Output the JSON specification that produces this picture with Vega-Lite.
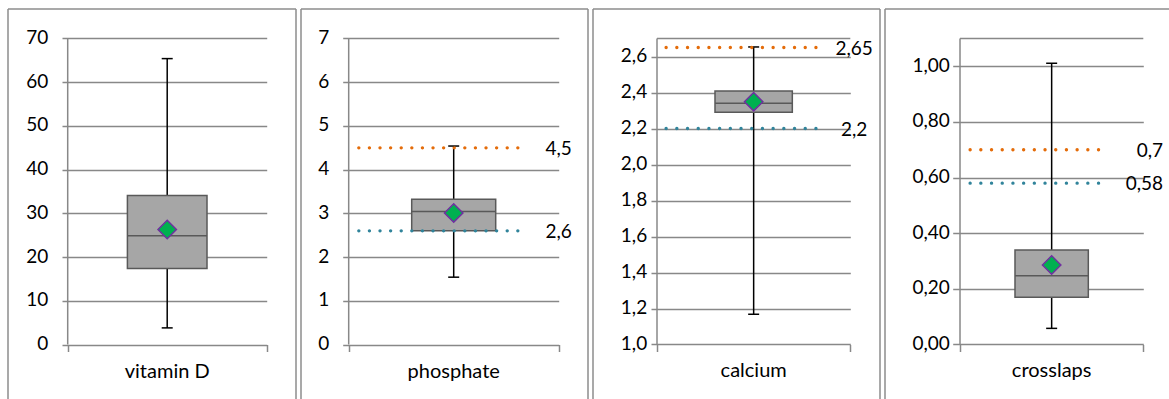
{
  "$schema": "https://vega.github.io/schema/vega-lite/v6.json",
  "padding": {"left": 7, "top": 8, "right": 0, "bottom": 0},
  "autosize": {"type": "pad"},
  "background": "#ffffff",
  "spacing": 5,
  "bounds": "flush",
  "config": {
    "view": {"stroke": null},
    "font": "Lato",
    "axis": {"grid": false, "domain": false, "tickColor": "#888888", "tickWidth": 1.5, "labelFont": "Lato", "labelFontSize": 19, "labelColor": "#000000", "zindex": 0},
    "text": {"font": "Lato", "fontSize": 19, "color": "#000000"}
  },
  "datasets": {
    "stats": [
      {"variable": "vitamin D", "min": 3.8, "q1": 17.4, "median": 24.9, "q3": 34.1, "max": 65.4, "mean": 26.3},
      {"variable": "phosphate", "min": 1.54, "q1": 2.6, "median": 3.04, "q3": 3.32, "max": 4.54, "mean": 3.01},
      {"variable": "calcium", "min": 1.168, "q1": 2.29, "median": 2.34, "q3": 2.408, "max": 2.653, "mean": 2.349},
      {"variable": "crosslaps", "min": 0.058, "q1": 0.17, "median": 0.247, "q3": 0.34, "max": 1.011, "mean": 0.286}
    ],
    "refs": [
      {"variable": "phosphate", "kind": "upper", "value": 4.5, "label": "4,5"},
      {"variable": "phosphate", "kind": "lower", "value": 2.6, "label": "2,6"},
      {"variable": "calcium", "kind": "upper", "value": 2.65, "label": "2,65"},
      {"variable": "calcium", "kind": "lower", "value": 2.2, "label": "2,2"},
      {"variable": "crosslaps", "kind": "upper", "value": 0.7, "label": "0,7"},
      {"variable": "crosslaps", "kind": "lower", "value": 0.58, "label": "0,58"}
    ]
  },
  "hconcat": [
    {
      "width": 288, "height": 390,
      "data": {"name": "stats"},
      "transform": [{"filter": "datum.variable === 'vitamin D'"}],
      "layer": [
        {"mark": {"type": "rule", "color": "#888888", "strokeWidth": 1.5},
         "encoding": {
           "x": {"datum": 0, "type": "quantitative", "scale": {"domain": [-0.3, 1.1472], "nice": false, "zero": false}, "axis": {"orient": "bottom", "values": [0, 1], "labels": false, "ticks": true, "tickSize": 7, "offset": -54.5, "title": null}},
           "y": {"datum": 0, "type": "quantitative", "scale": {"domain": [-12.467, 76.748], "nice": false, "zero": false}, "axis": {"orient": "left", "values": [0, 10, 20, 30, 40, 50, 60, 70], "format": "d", "offset": -54, "ticks": true, "tickSize": -204.7, "labelPadding": 219, "labelOffset": -1, "title": null}},
           "y2": {"datum": 70}
         }},
        {"mark": {"type": "rule", "color": "#8c8c8c", "strokeWidth": 1.5},
         "encoding": {"x": {"datum": -0.3, "type": "quantitative"}, "y": {"datum": -12.467, "type": "quantitative"}, "y2": {"datum": 76.748}}},
        {"mark": {"type": "rule", "color": "#8c8c8c", "strokeWidth": 1.5},
         "encoding": {"x": {"datum": 1.1472, "type": "quantitative"}, "y": {"datum": -12.467, "type": "quantitative"}, "y2": {"datum": 76.748}}},
        {"mark": {"type": "rule", "color": "#8c8c8c", "strokeWidth": 1.5},
         "encoding": {"x": {"datum": -0.3, "type": "quantitative"}, "x2": {"datum": 1.1472}, "y": {"datum": 76.748, "type": "quantitative"}}},
        {"mark": {"type": "rule", "color": "#000000", "strokeWidth": 1.5},
         "encoding": {"x": {"datum": 0.5, "type": "quantitative"}, "y": {"field": "min", "type": "quantitative", "title": null}, "y2": {"field": "max"}}},
        {"mark": {"type": "tick", "orient": "horizontal", "color": "#000000", "thickness": 1.5, "size": 11, "opacity": 1},
         "encoding": {"x": {"datum": 0.5, "type": "quantitative"}, "y": {"field": "min", "type": "quantitative", "title": null}}},
        {"mark": {"type": "tick", "orient": "horizontal", "color": "#000000", "thickness": 1.5, "size": 11, "opacity": 1},
         "encoding": {"x": {"datum": 0.5, "type": "quantitative"}, "y": {"field": "max", "type": "quantitative", "title": null}}},
        {"mark": {"type": "rect", "fill": "#a6a6a6", "stroke": "#595959", "strokeWidth": 1.5},
         "encoding": {"x": {"datum": 0.3, "type": "quantitative"}, "x2": {"datum": 0.7}, "y": {"field": "q1", "type": "quantitative", "title": null}, "y2": {"field": "q3"}}},
        {"mark": {"type": "rule", "color": "#595959", "strokeWidth": 1.5},
         "encoding": {"x": {"datum": 0.3, "type": "quantitative"}, "x2": {"datum": 0.7}, "y": {"field": "median", "type": "quantitative", "title": null}}},
        {"mark": {"type": "point", "shape": "diamond", "filled": true, "size": 340, "fill": "#00b050", "stroke": "#7030a0", "strokeWidth": 1.5, "opacity": 1},
         "encoding": {"x": {"datum": 0.5, "type": "quantitative"}, "y": {"field": "mean", "type": "quantitative", "title": null}}},
        {"mark": {"type": "text", "align": "center", "baseline": "middle", "dy": 27, "fontSize": 20},
         "encoding": {"x": {"datum": 0.5, "type": "quantitative"}, "y": {"datum": 0, "type": "quantitative"}, "text": {"field": "variable"}}}
      ]
    },
    {
      "width": 287, "height": 390,
      "data": {"name": "stats"},
      "transform": [{"filter": "datum.variable === 'phosphate'"}],
      "layer": [
        {"mark": {"type": "rule", "color": "#888888", "strokeWidth": 1.5},
         "encoding": {
           "x": {"datum": 0, "type": "quantitative", "scale": {"domain": [-0.2271, 1.1395], "nice": false, "zero": false}, "axis": {"orient": "bottom", "values": [0, 1], "labels": false, "ticks": true, "tickSize": 7, "offset": -54.5, "title": null}},
           "y": {"datum": 0, "type": "quantitative", "scale": {"domain": [-1.2467, 7.6748], "nice": false, "zero": false}, "axis": {"orient": "left", "values": [0, 1, 2, 3, 4, 5, 6, 7], "format": "d", "offset": -41.7, "ticks": true, "tickSize": -216, "labelPadding": 230, "labelOffset": -1, "title": null}},
           "y2": {"datum": 7}
         }},
        {"mark": {"type": "rule", "color": "#8c8c8c", "strokeWidth": 1.5},
         "encoding": {"x": {"datum": -0.2271, "type": "quantitative"}, "y": {"datum": -1.2467, "type": "quantitative"}, "y2": {"datum": 7.6748}}},
        {"mark": {"type": "rule", "color": "#8c8c8c", "strokeWidth": 1.5},
         "encoding": {"x": {"datum": 1.1395, "type": "quantitative"}, "y": {"datum": -1.2467, "type": "quantitative"}, "y2": {"datum": 7.6748}}},
        {"mark": {"type": "rule", "color": "#8c8c8c", "strokeWidth": 1.5},
         "encoding": {"x": {"datum": -0.2271, "type": "quantitative"}, "x2": {"datum": 1.1395}, "y": {"datum": 7.6748, "type": "quantitative"}}},
        {"mark": {"type": "rule", "color": "#000000", "strokeWidth": 1.5},
         "encoding": {"x": {"datum": 0.5, "type": "quantitative"}, "y": {"field": "min", "type": "quantitative", "title": null}, "y2": {"field": "max"}}},
        {"mark": {"type": "tick", "orient": "horizontal", "color": "#000000", "thickness": 1.5, "size": 11, "opacity": 1},
         "encoding": {"x": {"datum": 0.5, "type": "quantitative"}, "y": {"field": "min", "type": "quantitative", "title": null}}},
        {"mark": {"type": "tick", "orient": "horizontal", "color": "#000000", "thickness": 1.5, "size": 11, "opacity": 1},
         "encoding": {"x": {"datum": 0.5, "type": "quantitative"}, "y": {"field": "max", "type": "quantitative", "title": null}}},
        {"mark": {"type": "rect", "fill": "#a6a6a6", "stroke": "#595959", "strokeWidth": 1.5},
         "encoding": {"x": {"datum": 0.3, "type": "quantitative"}, "x2": {"datum": 0.7}, "y": {"field": "q1", "type": "quantitative", "title": null}, "y2": {"field": "q3"}}},
        {"mark": {"type": "rule", "color": "#595959", "strokeWidth": 1.5},
         "encoding": {"x": {"datum": 0.3, "type": "quantitative"}, "x2": {"datum": 0.7}, "y": {"field": "median", "type": "quantitative", "title": null}}},
        {"mark": {"type": "point", "shape": "diamond", "filled": true, "size": 340, "fill": "#00b050", "stroke": "#7030a0", "strokeWidth": 1.5, "opacity": 1},
         "encoding": {"x": {"datum": 0.5, "type": "quantitative"}, "y": {"field": "mean", "type": "quantitative", "title": null}}},
        {"data": {"name": "refs"}, "transform": [{"filter": "datum.variable === 'phosphate'"}],
         "mark": {"type": "rule", "strokeWidth": 3.3, "strokeCap": "round", "strokeDash": [0.1, 10.5]},
         "encoding": {"x": {"datum": 0.048, "type": "quantitative"}, "x2": {"datum": 0.81}, "y": {"field": "value", "type": "quantitative", "title": null},
           "color": {"field": "kind", "type": "nominal", "scale": {"domain": ["upper", "lower"], "range": ["#e46c0a", "#31849b"]}, "legend": null}}},
        {"data": {"name": "refs"}, "transform": [{"filter": "datum.variable === 'phosphate'"}],
         "mark": {"type": "text", "align": "center", "baseline": "middle", "dy": 1},
         "encoding": {"x": {"datum": 1, "type": "quantitative"}, "y": {"field": "value", "type": "quantitative", "title": null}, "text": {"field": "label"}}},
        {"mark": {"type": "text", "align": "center", "baseline": "middle", "dy": 27, "fontSize": 20},
         "encoding": {"x": {"datum": 0.5, "type": "quantitative"}, "y": {"datum": 0, "type": "quantitative"}, "text": {"field": "variable"}}}
      ]
    },
    {
      "width": 287, "height": 390,
      "data": {"name": "stats"},
      "transform": [{"filter": "datum.variable === 'calcium'"}],
      "layer": [
        {"mark": {"type": "rule", "color": "#888888", "strokeWidth": 1.5},
         "encoding": {
           "x": {"datum": 0, "type": "quantitative", "scale": {"domain": [-0.3311, 1.1536], "nice": false, "zero": false}, "axis": {"orient": "bottom", "values": [0, 1], "labels": false, "ticks": true, "tickSize": 7, "offset": -54.5, "title": null}},
           "y": {"datum": 1.0, "type": "quantitative", "scale": {"domain": [0.69722, 2.8639], "nice": false, "zero": false}, "axis": {"orient": "left", "values": [1.0, 1.2, 1.4, 1.6, 1.8, 2.0, 2.2, 2.4, 2.6], "labelExpr": "replace(format(datum.value, '.1f'), '.', ',')", "offset": -58, "ticks": true, "tickSize": -199.3, "labelPadding": 203.6, "labelOffset": -1, "title": null}},
           "y2": {"datum": 2.7}
         }},
        {"mark": {"type": "rule", "color": "#888888", "strokeWidth": 1.5},
         "encoding": {"x": {"datum": 0, "type": "quantitative"}, "x2": {"datum": 1}, "y": {"datum": 2.7, "type": "quantitative"}}},
        {"mark": {"type": "rule", "color": "#8c8c8c", "strokeWidth": 1.5},
         "encoding": {"x": {"datum": -0.3311, "type": "quantitative"}, "y": {"datum": 0.69722, "type": "quantitative"}, "y2": {"datum": 2.8639}}},
        {"mark": {"type": "rule", "color": "#8c8c8c", "strokeWidth": 1.5},
         "encoding": {"x": {"datum": 1.1536, "type": "quantitative"}, "y": {"datum": 0.69722, "type": "quantitative"}, "y2": {"datum": 2.8639}}},
        {"mark": {"type": "rule", "color": "#8c8c8c", "strokeWidth": 1.5},
         "encoding": {"x": {"datum": -0.3311, "type": "quantitative"}, "x2": {"datum": 1.1536}, "y": {"datum": 2.8639, "type": "quantitative"}}},
        {"mark": {"type": "rule", "color": "#000000", "strokeWidth": 1.5},
         "encoding": {"x": {"datum": 0.5, "type": "quantitative"}, "y": {"field": "min", "type": "quantitative", "title": null}, "y2": {"field": "max"}}},
        {"mark": {"type": "tick", "orient": "horizontal", "color": "#000000", "thickness": 1.5, "size": 11, "opacity": 1},
         "encoding": {"x": {"datum": 0.5, "type": "quantitative"}, "y": {"field": "min", "type": "quantitative", "title": null}}},
        {"mark": {"type": "tick", "orient": "horizontal", "color": "#000000", "thickness": 1.5, "size": 11, "opacity": 1},
         "encoding": {"x": {"datum": 0.5, "type": "quantitative"}, "y": {"field": "max", "type": "quantitative", "title": null}}},
        {"mark": {"type": "rect", "fill": "#a6a6a6", "stroke": "#595959", "strokeWidth": 1.5},
         "encoding": {"x": {"datum": 0.3, "type": "quantitative"}, "x2": {"datum": 0.7}, "y": {"field": "q1", "type": "quantitative", "title": null}, "y2": {"field": "q3"}}},
        {"mark": {"type": "rule", "color": "#595959", "strokeWidth": 1.5},
         "encoding": {"x": {"datum": 0.3, "type": "quantitative"}, "x2": {"datum": 0.7}, "y": {"field": "median", "type": "quantitative", "title": null}}},
        {"mark": {"type": "point", "shape": "diamond", "filled": true, "size": 340, "fill": "#00b050", "stroke": "#7030a0", "strokeWidth": 1.5, "opacity": 1},
         "encoding": {"x": {"datum": 0.5, "type": "quantitative"}, "y": {"field": "mean", "type": "quantitative", "title": null}}},
        {"data": {"name": "refs"}, "transform": [{"filter": "datum.variable === 'calcium'"}],
         "mark": {"type": "rule", "strokeWidth": 3.3, "strokeCap": "round", "strokeDash": [0.1, 10.6]},
         "encoding": {"x": {"datum": 0.047, "type": "quantitative"}, "x2": {"datum": 0.825}, "y": {"field": "value", "type": "quantitative", "title": null},
           "color": {"field": "kind", "type": "nominal", "scale": {"domain": ["upper", "lower"], "range": ["#e46c0a", "#31849b"]}, "legend": null}}},
        {"data": {"name": "refs"}, "transform": [{"filter": "datum.variable === 'calcium'"}],
         "mark": {"type": "text", "align": "center", "baseline": "middle", "dy": 1},
         "encoding": {"x": {"datum": 1.02, "type": "quantitative"}, "y": {"field": "value", "type": "quantitative", "title": null}, "text": {"field": "label"}}},
        {"mark": {"type": "text", "align": "center", "baseline": "middle", "dy": 27, "fontSize": 20},
         "encoding": {"x": {"datum": 0.5, "type": "quantitative"}, "y": {"datum": 1.0, "type": "quantitative"}, "text": {"field": "variable"}}}
      ]
    },
    {
      "width": 284, "height": 390,
      "data": {"name": "stats"},
      "transform": [{"filter": "datum.variable === 'crosslaps'"}],
      "layer": [
        {"mark": {"type": "rule", "color": "#888888", "strokeWidth": 1.5},
         "encoding": {
           "x": {"datum": 0, "type": "quantitative", "scale": {"domain": [-0.4092, 1.1402], "nice": false, "zero": false}, "axis": {"orient": "bottom", "values": [0, 1], "labels": false, "ticks": true, "tickSize": 7, "offset": -54.5, "title": null}},
           "y": {"datum": 0, "type": "quantitative", "scale": {"domain": [-0.19592, 1.20605], "nice": false, "zero": false}, "axis": {"orient": "left", "values": [0, 0.2, 0.4, 0.6, 0.8, 1.0], "labelExpr": "replace(format(datum.value, '.2f'), '.', ',')", "offset": -67.7, "ticks": true, "tickSize": -190.6, "labelPadding": 194, "labelOffset": -1, "title": null}},
           "y2": {"datum": 1.1}
         }},
        {"mark": {"type": "rule", "color": "#888888", "strokeWidth": 1.5},
         "encoding": {"x": {"datum": 0, "type": "quantitative"}, "x2": {"datum": 1}, "y": {"datum": 1.1, "type": "quantitative"}}},
        {"mark": {"type": "rule", "color": "#8c8c8c", "strokeWidth": 1.5},
         "encoding": {"x": {"datum": -0.4092, "type": "quantitative"}, "y": {"datum": -0.19592, "type": "quantitative"}, "y2": {"datum": 1.20605}}},
        {"mark": {"type": "rule", "color": "#8c8c8c", "strokeWidth": 1.5},
         "encoding": {"x": {"datum": -0.4092, "type": "quantitative"}, "x2": {"datum": 1.1402}, "y": {"datum": 1.20605, "type": "quantitative"}}},
        {"mark": {"type": "rule", "color": "#000000", "strokeWidth": 1.5},
         "encoding": {"x": {"datum": 0.5, "type": "quantitative"}, "y": {"field": "min", "type": "quantitative", "title": null}, "y2": {"field": "max"}}},
        {"mark": {"type": "tick", "orient": "horizontal", "color": "#000000", "thickness": 1.5, "size": 11, "opacity": 1},
         "encoding": {"x": {"datum": 0.5, "type": "quantitative"}, "y": {"field": "min", "type": "quantitative", "title": null}}},
        {"mark": {"type": "tick", "orient": "horizontal", "color": "#000000", "thickness": 1.5, "size": 11, "opacity": 1},
         "encoding": {"x": {"datum": 0.5, "type": "quantitative"}, "y": {"field": "max", "type": "quantitative", "title": null}}},
        {"mark": {"type": "rect", "fill": "#a6a6a6", "stroke": "#595959", "strokeWidth": 1.5},
         "encoding": {"x": {"datum": 0.3, "type": "quantitative"}, "x2": {"datum": 0.7}, "y": {"field": "q1", "type": "quantitative", "title": null}, "y2": {"field": "q3"}}},
        {"mark": {"type": "rule", "color": "#595959", "strokeWidth": 1.5},
         "encoding": {"x": {"datum": 0.3, "type": "quantitative"}, "x2": {"datum": 0.7}, "y": {"field": "median", "type": "quantitative", "title": null}}},
        {"mark": {"type": "point", "shape": "diamond", "filled": true, "size": 340, "fill": "#00b050", "stroke": "#7030a0", "strokeWidth": 1.5, "opacity": 1},
         "encoding": {"x": {"datum": 0.5, "type": "quantitative"}, "y": {"field": "mean", "type": "quantitative", "title": null}}},
        {"data": {"name": "refs"}, "transform": [{"filter": "datum.variable === 'crosslaps'"}],
         "mark": {"type": "rule", "strokeWidth": 3.3, "strokeCap": "round", "strokeDash": [0.1, 10.6]},
         "encoding": {"x": {"datum": 0.055, "type": "quantitative"}, "x2": {"datum": 0.81}, "y": {"field": "value", "type": "quantitative", "title": null},
           "color": {"field": "kind", "type": "nominal", "scale": {"domain": ["upper", "lower"], "range": ["#e46c0a", "#31849b"]}, "legend": null}}},
        {"data": {"name": "refs"}, "transform": [{"filter": "datum.variable === 'crosslaps'"}],
         "mark": {"type": "text", "align": "right", "baseline": "middle", "dy": 1},
         "encoding": {"x": {"datum": 1.1075, "type": "quantitative"}, "y": {"field": "value", "type": "quantitative", "title": null}, "text": {"field": "label"}}},
        {"mark": {"type": "text", "align": "center", "baseline": "middle", "dy": 27, "fontSize": 20},
         "encoding": {"x": {"datum": 0.5, "type": "quantitative"}, "y": {"datum": 0, "type": "quantitative"}, "text": {"field": "variable"}}}
      ]
    }
  ]
}
